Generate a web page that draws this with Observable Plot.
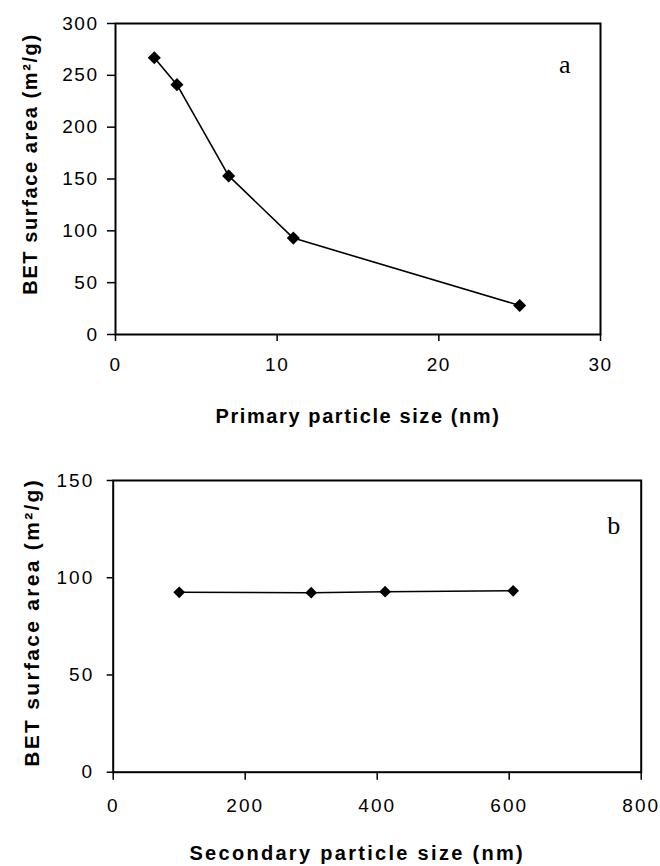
<!DOCTYPE html>
<html>
<head>
<meta charset="utf-8">
<script src="https://cdn.jsdelivr.net/npm/d3@7"></script>
<script src="https://cdn.jsdelivr.net/npm/@observablehq/plot@0.6"></script>
<style>
  body { margin: 0; background: #fff; }
  #chart { position: relative; width: 660px; height: 866px; }
  #chart svg { display: block; }
  .pa g[aria-label="y-axis tick label"] text,
  .pa g[aria-label="x-axis tick label"] text { letter-spacing: 1.5px; }
  .pb g[aria-label="y-axis tick label"] text,
  .pb g[aria-label="x-axis tick label"] text { letter-spacing: 2px; }
  .title text { letter-spacing: 1.6px; }
  .titleb text { letter-spacing: 2.3px; }
</style>
</head>
<body>
<div id="chart"></div>
<script>
// Panel a: BET surface area vs primary particle size
const primarySize = [2.4, 3.8, 7, 11, 25];
const primaryBET = [267, 241, 153, 93, 28];
const xTicksA = [0, 10, 20, 30];
const yTicksA = [0, 50, 100, 150, 200, 250, 300];

// Panel b: BET surface area vs secondary particle size
const secondarySize = [100, 300, 412, 606];
const secondaryBET = [92.5, 92.3, 92.8, 93.3];
const xTicksB = [0, 200, 400, 600, 800];
const yTicksB = [0, 50, 100, 150];

const yTitle = "BET surface area (m²/g)";
const xTitleA = "Primary particle size (nm)";
const xTitleB = "Secondary particle size (nm)";

const dataA = primarySize.map((x, i) => ({x, y: primaryBET[i]}));
const dataB = secondarySize.map((x, i) => ({x, y: secondaryBET[i]}));

const font = "'Liberation Sans', Arial, Helvetica, sans-serif";

const plotA = Plot.plot({
  className: "pa",
  width: 660,
  height: 440,
  marginLeft: 115,
  marginRight: 60,
  marginTop: 23,
  marginBottom: 106,
  style: {fontFamily: font, fontSize: "19px", color: "#000", background: "#fff"},
  x: {domain: [0, 30]},
  y: {domain: [0, 300]},
  marks: [
    Plot.axisY({ticks: yTicksA, tickSize: 8, tickPadding: 9, label: null, strokeWidth: 1.5}),
    Plot.axisX({ticks: xTicksA, tickSize: 7, tickPadding: 16, label: null, strokeWidth: 1.5}),
    Plot.frame({stroke: "#000", strokeWidth: 2}),
    Plot.line(dataA, {x: "x", y: "y", stroke: "#000", strokeWidth: 1.6}),
    Plot.dot(dataA, {x: "x", y: "y", symbol: "diamond2", r: 5.9, fill: "#000", stroke: "none"}),
    Plot.text(["a"], {frameAnchor: "top-right", text: d => d, dx: -30, dy: 31.5,
      fontFamily: "'Liberation Serif', 'Times New Roman', serif", fontSize: 26}),
    Plot.text([yTitle], {frameAnchor: "left", text: d => d, rotate: -90, dx: -85, dy: -15,
      textAnchor: "middle", lineAnchor: "middle",
      fontWeight: "bold", fontSize: 20, className: "title"}),
    Plot.text([xTitleA], {frameAnchor: "bottom", text: d => d, dy: 82,
      textAnchor: "middle", lineAnchor: "middle",
      fontWeight: "bold", fontSize: 20, className: "title"})
  ]
});

const plotB = Plot.plot({
  className: "pb",
  width: 660,
  height: 426,
  marginLeft: 112.7,
  marginRight: 19.3,
  marginTop: 40,
  marginBottom: 94.3,
  style: {fontFamily: font, fontSize: "19px", color: "#000", background: "#fff"},
  x: {domain: [0, 800]},
  y: {domain: [0, 150]},
  marks: [
    Plot.axisY({ticks: yTicksB, tickSize: 6, tickPadding: 13, label: null, strokeWidth: 1.5}),
    Plot.axisX({ticks: xTicksB, tickSize: 8, tickPadding: 18, label: null, strokeWidth: 1.5}),
    Plot.frame({stroke: "#000", strokeWidth: 2}),
    Plot.line(dataB, {x: "x", y: "y", stroke: "#000", strokeWidth: 1.6}),
    Plot.dot(dataB, {x: "x", y: "y", symbol: "diamond2", r: 5.3, fill: "#000", stroke: "none"}),
    Plot.text(["b"], {frameAnchor: "top-right", text: d => d, dx: -21, dy: 35.5,
      fontFamily: "'Liberation Serif', 'Times New Roman', serif", fontSize: 26}),
    Plot.text([yTitle], {frameAnchor: "left", text: d => d, rotate: -90, dx: -81, dy: -4,
      textAnchor: "middle", lineAnchor: "middle",
      fontWeight: "bold", fontSize: 21, className: "titleb"}),
    Plot.text([xTitleB], {frameAnchor: "bottom", text: d => d, dx: -20, dy: 81,
      textAnchor: "middle", lineAnchor: "middle",
      fontWeight: "bold", fontSize: 20, className: "titleb"})
  ]
});

const chart = document.getElementById("chart");
chart.append(plotA, plotB);
</script>
</body>
</html>
